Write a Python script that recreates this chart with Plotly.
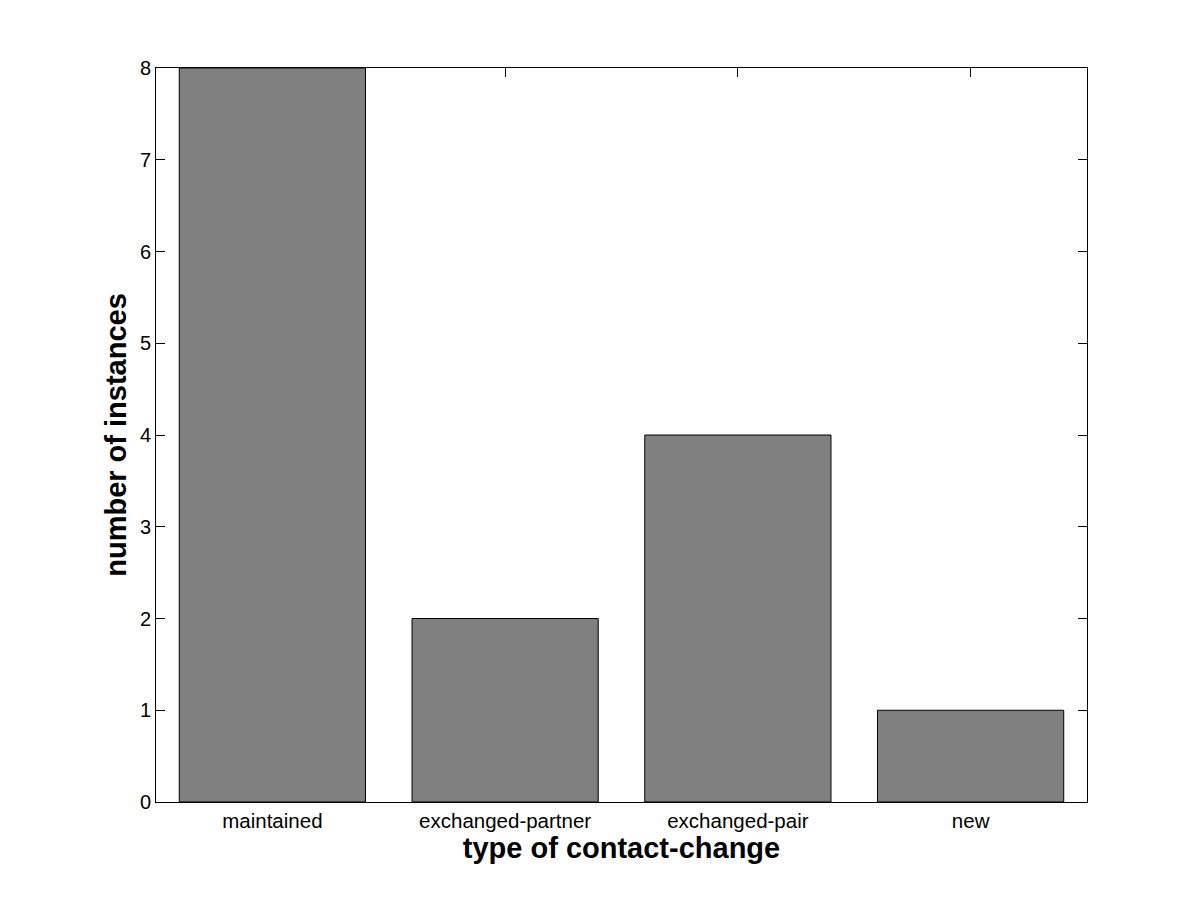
import plotly.graph_objects as go

categories = ["maintained", "exchanged-partner", "exchanged-pair", "new"]
counts = [8, 2, 4, 1]
positions = [1, 2, 3, 4]
y_ticks = [0, 1, 2, 3, 4, 5, 6, 7, 8]

fig = go.Figure(go.Bar(
    x=positions, y=counts,
    marker=dict(color="#808080", line=dict(color="black", width=1)),
    width=0.8,
))

font_family = "Liberation Sans, Arial, sans-serif"
fig.update_layout(
    width=1201, height=901,
    margin=dict(l=148, r=122, t=60, b=107),
    paper_bgcolor="white", plot_bgcolor="white",
    showlegend=False,
    font=dict(family=font_family, size=20, color="black"),
    xaxis=dict(
        range=[0.5, 4.5], tickmode="array", tickvals=positions, ticktext=categories,
        ticks="inside", ticklen=9, tickcolor="black", tickwidth=1,
        showline=True, linecolor="black", linewidth=1, mirror="ticks",
        showgrid=False, zeroline=False, layer="below traces",
        title=dict(text="<b>type of contact-change</b>", font=dict(size=29), standoff=7),
        tickfont=dict(size=20.5),
    ),
    yaxis=dict(
        range=[0, 8], tickmode="array", tickvals=y_ticks,
        ticks="inside", ticklen=9, tickcolor="black", tickwidth=1,
        showline=True, linecolor="black", linewidth=1, mirror="ticks",
        showgrid=False, zeroline=False, layer="below traces",
        title=dict(text="<b>number of instances</b>", font=dict(size=29), standoff=4),
        tickfont=dict(size=20),
    ),
)

fig.write_html("out.html")
